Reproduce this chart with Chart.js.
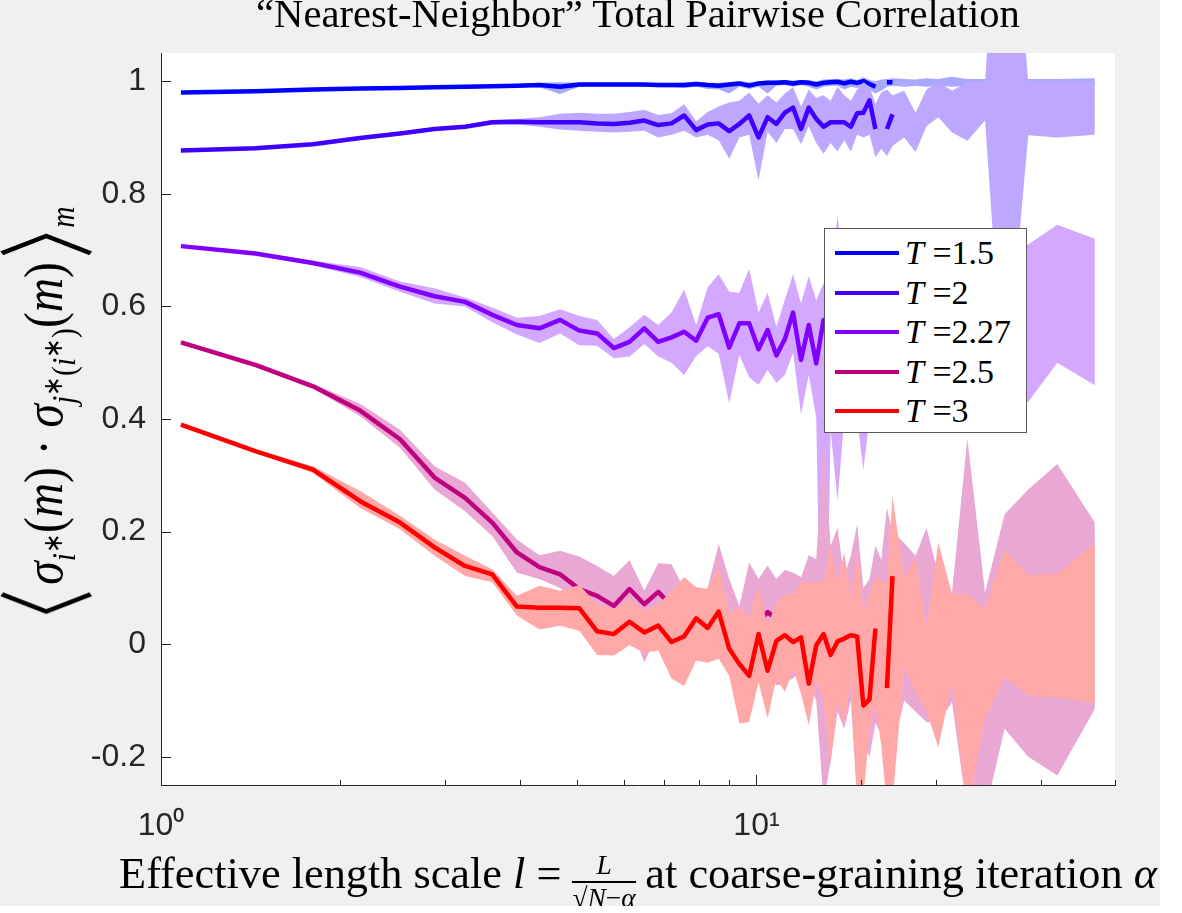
<!DOCTYPE html>
<html>
<head>
<meta charset="utf-8">
<script src="https://cdn.jsdelivr.net/npm/chart.js@4.4.0/dist/chart.umd.min.js"></script>
<style>
  body { margin: 0; background: #fff; }
  #fig { position: relative; width: 1160px; height: 906px; background: #f0f0f0; overflow: hidden; }
  #chart { position: absolute; left: 0; top: 0; }
  .serif { font-family: "Liberation Serif", "Times New Roman", serif; color: #000; white-space: nowrap; }
  #title { position: absolute; left: 161px; width: 954px; display: flex; justify-content: center; line-height: 1; }
  #xt { position: absolute; left: 161px; width: 954px; display: flex; justify-content: center; align-items: baseline; line-height: 1; }
  .frac { display: inline-flex; flex-direction: column; align-items: center; font-size: 0.62em; line-height: 1.05; margin: 0 0.35em 0 0.4em; position: relative; top: -0.5em; }
  .num { border-bottom: 2px solid #000; width: 100%; text-align: center; padding-bottom: 1px; }
  .den { padding-top: 1px; }
  .ov { border-top: 1px solid #000; }
  #yt { position: absolute; left: 0; top: 0; line-height: 1; }
  #yt .ang { font-family: "Noto Sans CJK JP", "DejaVu Sans", sans-serif; font-size: 1.8em; vertical-align: -0.22em; display: inline-block; transform: scaleX(0.7); }
  #yt .ang.open { margin-left: -0.5em; margin-right: -0.1em; }
  #yt .ang.close { margin-left: -0.1em; margin-right: -0.5em; }
  #yt sub { font-size: 0.62em; }
  #yt sup { font-size: 0.8em; }
  #legend { position: absolute; left: 824px; top: 228px; width: 201px; height: 203px; background: #fff; border: 1px solid #5a5a5a; }
  .row { position: absolute; left: 0; height: 40px; width: 100%; }
  .row .swatch { position: absolute; left: 10px; width: 64px; height: 4px; top: 18px; }
  .row .txt { position: absolute; left: 80px; top: 3px; font-size: 34px; line-height: 1; }
</style>
</head>
<body>
<div id="fig">
  <canvas id="chart" width="1160" height="906"></canvas>
  <div id="title" class="serif">“Nearest-Neighbor” Total Pairwise Correlation</div>
  <div id="xt" class="serif"><span>Effective length scale <i>l</i> =</span><span class="frac"><span class="num"><i>L</i></span><span class="den">√<span class="ov"><i>N</i>−<i>α</i></span></span></span><span>at coarse-graining iteration <i>α</i></span></div>
  <div id="yt" class="serif"><span class="ang open">〈</span><i>σ</i><sub><i>i</i><sup>∗</sup></sub>(<i>m</i>) · <i>σ</i><sub><i>j</i><sup>∗</sup>(<i>i</i><sup>∗</sup>)</sub>(<i>m</i>)<span class="ang close">〉</span><sub><i>m</i></sub></div>
  <div id="legend"></div>
</div>
<script>
// effective length scale at each coarse-graining step
const xs = [1.08, 1.44, 1.80, 2.16, 2.52, 2.88, 3.24, 3.60, 3.96, 4.32,
            4.68, 5.04, 5.40, 5.76, 6.12, 6.48, 6.84, 7.20, 7.56, 7.92,
            8.28, 8.64, 9.00, 9.36, 9.72, 10.08, 10.44, 10.80, 11.16, 11.52,
            11.88, 12.24, 12.60, 12.96, 13.32, 13.68, 14.04, 14.40, 14.76, 15.12,
            15.48, 15.84, 16.20, 16.56, 16.92,
            17.7, 18.5, 19.3, 20.2, 21.3, 22.6, 24.2, 26.1, 28.6, 32.0, 37.0];

const labels = ['1.5', '2', '2.27', '2.5', '3'];

// T = 1.5
const t15Mean = [0.980, 0.982, 0.985, 0.987, 0.988, 0.989, 0.990, 0.991, 0.992, 0.993,
                 0.990, 0.994, 0.994, 0.994, 0.994, 0.994, 0.993, 0.993, 0.993, 0.995,
                 0.993, 0.992, 0.994, 0.996, 0.992, 0.996, 0.997, 0.997, 0.998, 0.996,
                 0.998, 0.997, 0.994, 0.997, 0.998, 0.999, 0.996, 0.999, 0.997, 1.000,
                 0.995, 0.990, null, 0.998, 0.998,
                 null, null, null, null, null, null, null, null, null, null, null];
const t15Lo = [0.978, 0.980, 0.983, 0.985, 0.986, 0.987, 0.988, 0.989, 0.989, 0.989,
               0.977, 0.990, 0.991, 0.991, 0.991, 0.990, 0.989, 0.989, 0.988, 0.990,
               0.986, 0.985, 0.978, 0.990, 0.986, 0.990, 0.978, 0.992, 0.993, 0.990,
               0.993, 0.990, 0.985, 0.990, 0.992, 0.992, 0.985, 0.990, 0.988, 0.991,
               0.985, 0.978, 0.983, 0.990, 0.992,
               0.990, 0.992, 0.990, 0.992, 0.990, 0.992, 0.990, 0.992, 0.992, 0.992, 0.990];
const t15Hi = [0.982, 0.984, 0.987, 0.989, 0.990, 0.991, 0.992, 0.993, 0.995, 0.997,
               0.998, 0.997, 0.997, 0.997, 0.997, 0.997, 0.996, 0.996, 0.997, 0.999,
               0.997, 0.997, 0.998, 1.000, 0.998, 1.000, 1.001, 1.001, 1.002, 1.001,
               1.002, 1.002, 1.000, 1.003, 1.004, 1.004, 1.003, 1.005, 1.002, 1.007,
               1.002, 1.000, 1.003, 1.004, 1.005,
               1.004, 1.003, 1.005, 1.004, 1.008, 1.004, 1.004, 1.004, 1.004, 1.004, 1.005];

// T = 2
const t2Mean = [0.877, 0.881, 0.888, 0.899, 0.907, 0.915, 0.919, 0.927, 0.928, 0.927,
                0.927, 0.927, 0.925, 0.924, 0.926, 0.930, 0.922, 0.925, 0.939, 0.913,
                0.923, 0.925, 0.911, 0.924, 0.939, 0.900, 0.936, 0.924, 0.944, 0.953,
                0.915, 0.953, 0.933, 0.919, 0.927, 0.927, 0.927, 0.919, 0.943, 0.944,
                0.966, 0.915, null, 0.915, 0.941,
                null, null, null, null, null, null, null, null, null, null, null];
const t2Lo = [0.875, 0.879, 0.886, 0.896, 0.904, 0.912, 0.916, 0.923, 0.923, 0.919,
              0.914, 0.912, 0.910, 0.909, 0.910, 0.912, 0.900, 0.905, 0.912, 0.900,
              0.905, 0.895, 0.862, 0.900, 0.905, 0.824, 0.910, 0.890, 0.915, 0.915,
              0.888, 0.920, 0.890, 0.871, 0.890, 0.875, 0.895, 0.875, 0.905, 0.900,
              0.905, 0.865, 0.880, 0.867, 0.885,
              0.900, 0.874, 0.920, 0.936, 0.909, 0.894, 0.930, 0.430, 0.904, 0.900, 0.905];
const t2Hi = [0.879, 0.883, 0.890, 0.902, 0.910, 0.918, 0.922, 0.931, 0.933, 0.936,
              0.942, 0.944, 0.942, 0.942, 0.945, 0.949, 0.940, 0.943, 0.959, 0.929,
              0.945, 0.955, 0.962, 0.965, 0.980, 0.960, 0.975, 0.962, 0.978, 0.989,
              0.955, 0.985, 0.970, 0.975, 0.965, 0.990, 0.975, 0.965, 0.985, 0.998,
              0.990, 0.960, 0.980, 0.985, 0.975,
              0.983, 0.944, 0.985, 0.998, 0.983, 0.998, 1.000, 1.500, 1.000, 1.000, 1.000];

// T = 2.27
const t227Mean = [0.707, 0.694, 0.677, 0.660, 0.635, 0.618, 0.608, 0.585, 0.567, 0.561,
                  0.576, 0.557, 0.552, 0.526, 0.537, 0.561, 0.537, 0.545, 0.555, 0.539,
                  0.580, 0.586, 0.527, 0.570, 0.570, 0.524, 0.558, 0.513, 0.542, 0.589,
                  0.505, 0.567, 0.499, 0.576, 0.550, 0.520, 0.560, 0.540, 0.500, 0.570,
                  0.530, 0.550, null, 0.520, 0.560,
                  null, null, null, null, null, null, null, null, null, null, null];
const t227Lo = [0.705, 0.691, 0.673, 0.652, 0.626, 0.605, 0.600, 0.572, 0.550, 0.535,
                0.552, 0.531, 0.530, 0.508, 0.511, 0.533, 0.511, 0.500, 0.478, 0.512,
                0.529, 0.516, 0.428, 0.514, 0.474, 0.461, 0.487, 0.464, 0.478, 0.517,
                0.408, 0.478, 0.402, -0.300, 0.380, 0.254, 0.400, 0.420, 0.400, 0.310,
                0.400, 0.420, 0.400, 0.420, 0.400,
                0.420, 0.450, 0.400, 0.420, 0.400, 0.420, 0.440, 0.420, 0.430, 0.500, 0.460];
const t227Hi = [0.709, 0.697, 0.681, 0.670, 0.644, 0.632, 0.616, 0.598, 0.580, 0.583,
                0.595, 0.583, 0.576, 0.542, 0.563, 0.585, 0.567, 0.589, 0.630, 0.567,
                0.634, 0.657, 0.626, 0.624, 0.667, 0.589, 0.624, 0.564, 0.612, 0.657,
                0.605, 0.654, 0.611, 0.641, 0.660, 0.760, 0.660, 0.700, 0.680, 0.700,
                0.660, 0.700, 0.680, 0.700, 0.720,
                0.700, 0.680, 0.700, 0.720, 0.700, 0.720, 0.700, 0.720, 0.710, 0.745, 0.720];

// T = 2.5
const t25Mean = [0.536, 0.496, 0.458, 0.415, 0.364, 0.296, 0.260, 0.216, 0.163, 0.137,
                 0.124, 0.098, 0.086, 0.068, 0.098, 0.071, 0.093, 0.068, 0.060, 0.055,
                 0.060, 0.070, 0.051, 0.040, 0.033, 0.040, 0.057, 0.045, 0.050, 0.055,
                 0.057, 0.058, 0.055, 0.040, 0.020, 0.030, 0.020, 0.030, 0.000, 0.020,
                 0.010, 0.000, null, -0.030, -0.030,
                 null, null, null, null, null, null, null, null, null, null, null];
const t25Lo = [0.534, 0.493, 0.454, 0.405, 0.349, 0.275, 0.236, 0.192, 0.127, 0.116,
               0.100, 0.070, 0.050, 0.030, 0.040, -0.032, 0.020, 0.010, -0.010, 0.000,
               -0.010, -0.020, -0.030, -0.040, -0.060, -0.050, -0.056, -0.073, -0.070, -0.060,
               -0.050, -0.070, -0.100, -0.280, -0.209, -0.120, -0.150, -0.100, -0.280, -0.180,
               -0.200, -0.140, -0.160, -0.260, -0.191,
               -0.100, -0.120, -0.138, -0.140, -0.103, -0.300, -0.300, -0.150, -0.200, -0.233, -0.115];
const t25Hi = [0.538, 0.499, 0.462, 0.427, 0.381, 0.316, 0.287, 0.234, 0.186, 0.158,
               0.166, 0.156, 0.139, 0.121, 0.149, 0.095, 0.144, 0.142, 0.098, 0.090,
               0.100, 0.178, 0.116, 0.068, 0.145, 0.116, 0.140, 0.116, 0.132, 0.127,
               0.119, 0.158, 0.151, 0.369, 0.175, 0.207, 0.120, 0.157, 0.213, 0.100,
               0.116, 0.175, 0.150, 0.242, 0.200,
               0.180, 0.157, 0.207, 0.124, 0.092, 0.366, 0.092, 0.231, 0.275, 0.320, 0.216];

// T = 3
const t3Mean = [0.390, 0.343, 0.310, 0.254, 0.216, 0.172, 0.139, 0.124, 0.067, 0.065,
                0.065, 0.064, 0.023, 0.018, 0.040, 0.021, 0.033, 0.004, 0.014, 0.046,
                0.029, 0.058, -0.008, -0.035, -0.056, 0.018, -0.047, 0.006, 0.016, 0.004,
                0.012, -0.070, -0.002, 0.018, -0.019, 0.005, 0.010, 0.016, 0.014, -0.109,
                -0.098, 0.028, null, -0.078, 0.121,
                null, null, null, null, null, null, null, null, null, null, null];
const t3Lo = [0.388, 0.340, 0.304, 0.242, 0.204, 0.157, 0.121, 0.110, 0.051, 0.026,
              0.033, 0.024, -0.019, -0.020, -0.002, -0.015, -0.011, -0.061, -0.074, -0.029,
              -0.033, -0.026, -0.056, -0.141, -0.138, -0.067, -0.132, -0.061, -0.085, -0.044,
              -0.088, -0.144, -0.067, -0.100, -0.209, -0.100, -0.144, -0.067, -0.270, -0.270,
              -0.150, -0.106, -0.180, -0.290, -0.280,
              -0.040, -0.085, -0.120, -0.183, -0.067, -0.300, -0.132, -0.058, -0.091, -0.095, -0.104];
const t3Hi = [0.392, 0.346, 0.316, 0.272, 0.228, 0.186, 0.157, 0.133, 0.086, 0.104,
              0.095, 0.105, 0.071, 0.062, 0.081, 0.059, 0.071, 0.095, 0.119, 0.101,
              0.098, 0.140, 0.057, 0.065, 0.048, 0.104, 0.033, 0.074, 0.089, 0.089,
              0.110, 0.110, 0.110, 0.110, 0.175, 0.110, 0.163, 0.086, 0.163, 0.057,
              0.090, 0.119, 0.115, 0.110, 0.263,
              0.117, 0.155, 0.030, 0.181, 0.089, 0.089, 0.063, 0.168, 0.123, 0.125, 0.181];

const yTicks = [-0.2, 0, 0.2, 0.4, 0.6, 0.8, 1];

const lineColors = ['#0000ff', '#4000ff', '#8000ff', '#bf0080', '#ff0000'];
const bandColors = ['#a8a8ff', '#bea8ff', '#d4a8ff', '#e9a8d3', '#ffa8a8'];

const series = [
  { mean: t15Mean, lo: t15Lo, hi: t15Hi },
  { mean: t2Mean, lo: t2Lo, hi: t2Hi },
  { mean: t227Mean, lo: t227Lo, hi: t227Hi },
  { mean: t25Mean, lo: t25Lo, hi: t25Hi },
  { mean: t3Mean, lo: t3Lo, hi: t3Hi }
];

const pts = arr => xs.map((x, i) => ({ x: x, y: arr[i] }));

// band (lo, hi filled to lo) then mean line, for each temperature in turn
const datasets = [];
series.forEach((s, i) => {
  datasets.push({ data: pts(s.lo), borderColor: 'transparent', borderWidth: 0, pointRadius: 0, fill: false });
  datasets.push({ data: pts(s.hi), borderColor: 'transparent', borderWidth: 0, pointRadius: 0,
                  backgroundColor: bandColors[i], fill: '-1' });
  datasets.push({ data: pts(s.mean), borderColor: lineColors[i], borderWidth: 4.5, pointRadius: 0,
                  borderJoinStyle: 'round', fill: false, spanGaps: false });
});
// later datasets must be painted on top
datasets.forEach((d, i) => { d.order = 1000 - i; });

const plotBg = {
  id: 'plotBg',
  beforeDraw(chart) {
    const { ctx, chartArea: a } = chart;
    ctx.save();
    ctx.fillStyle = '#ffffff';
    ctx.fillRect(a.left, a.top, a.right - a.left, a.bottom - a.top);
    ctx.restore();
  }
};

// MATLAB-style ticks pointing into the plot
const inwardTicks = {
  id: 'inwardTicks',
  afterDraw(chart) {
    const { ctx, chartArea: a } = chart;
    const x = chart.scales.x, y = chart.scales.y;
    ctx.save();
    ctx.strokeStyle = '#262626';
    ctx.lineWidth = 1;
    ctx.beginPath();
    y.ticks.forEach(t => {
      const py = Math.round(y.getPixelForValue(t.value)) + 0.5;
      ctx.moveTo(a.left, py);
      ctx.lineTo(a.left + 10, py);
    });
    x.ticks.forEach(t => {
      const px = Math.round(x.getPixelForValue(t.value)) + 0.5;
      const major = Math.abs(Math.log10(t.value) % 1) < 1e-9;
      ctx.moveTo(px, a.bottom);
      ctx.lineTo(px, a.bottom - (major ? 10 : 5));
    });
    ctx.stroke();
    ctx.restore();
  }
};

new Chart(document.getElementById('chart'), {
  type: 'line',
  data: { datasets: datasets },
  options: {
    responsive: false,
    animation: false,
    events: [],
    layout: { padding: { top: 53, right: 45, left: 0, bottom: 0 } },
    plugins: { legend: { display: false }, tooltip: { enabled: false }, title: { display: false } },
    scales: {
      x: {
        type: 'logarithmic',
        min: 1,
        max: 40,
        grid: { display: false, drawTicks: false },
        border: { display: true, color: '#262626', width: 1 },
        ticks: {
          autoSkip: false,
          maxRotation: 0,
          padding: 22,
          color: '#262626',
          font: { family: 'Liberation Sans, Arial, sans-serif', size: 32 },
          callback: v => (v === 1 ? '10\u2070' : v === 10 ? '10\u00b9' : '')
        },
        afterFit: scale => { scale.height = 121; }
      },
      y: {
        min: -0.25,
        max: 1.05,
        grid: { display: false, drawTicks: false },
        border: { display: true, color: '#262626', width: 1 },
        afterBuildTicks: scale => { scale.ticks = yTicks.map(v => ({ value: v })); },
        ticks: {
          padding: 15,
          color: '#262626',
          font: { family: 'Liberation Sans, Arial, sans-serif', size: 32 },
          callback: v => String(Math.round(v * 10) / 10)
        },
        afterFit: scale => { scale.width = 161; }
      }
    }
  },
  plugins: [plotBg, inwardTicks]
});

// legend inside the plot
const legend = document.getElementById('legend');
labels.forEach((t, i) => {
  const row = document.createElement('div');
  row.className = 'row';
  row.style.top = (4 + i * 39.5) + 'px';
  row.innerHTML = '<div class="swatch" style="background:' + lineColors[i] + '"></div>' +
                  '<div class="txt serif"><i>T</i> =' + t + '</div>';
  legend.appendChild(row);
});

// size the text blocks to the reference widths
function inner(el) {
  const r = document.createRange();
  r.selectNodeContents(el);
  return r.getBoundingClientRect().width;
}
function fitInner(el, target, start) {
  el.style.fontSize = start + 'px';
  const f = start * target / inner(el);
  el.style.fontSize = f + 'px';
  return f;
}
const title = document.getElementById('title');
const ft = fitInner(title, 764, 30);
title.style.top = (28 - 0.84 * ft) + 'px';

const xt = document.getElementById('xt');
const fx = fitInner(xt, 1038, 32);
xt.style.top = (889 - 0.84 * fx) + 'px';

const yt = document.getElementById('yt');
yt.style.fontSize = '36px';
const yw = yt.getBoundingClientRect().width;
yt.style.fontSize = (36 * 412 / yw) + 'px';
const r = yt.getBoundingClientRect();
yt.style.left = (42 - r.width / 2) + 'px';
yt.style.top = (413 - r.height / 2) + 'px';
yt.style.transform = 'rotate(-90deg) scaleY(1.15)';
</script>
</body>
</html>
